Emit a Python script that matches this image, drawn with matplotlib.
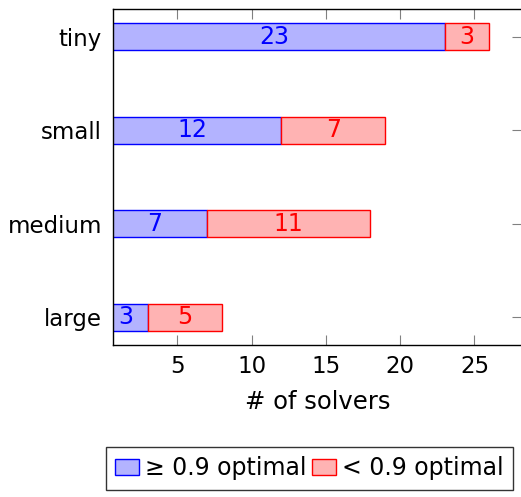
import matplotlib
matplotlib.use("Agg")
import matplotlib.pyplot as plt
from matplotlib.patches import Patch

# Solver counts per instance size
categories = ["large", "medium", "small", "tiny"]
good = [3, 7, 12, 23]    # >= 0.9 optimal
bad = [5, 11, 7, 3]      # < 0.9 optimal
xticks = [5, 10, 15, 20, 25]

BLUE_FILL = "#b3b3ff"
RED_FILL = "#ffb3b3"
BLUE = "#0000ff"
RED = "#ff0000"
FS = 16.5

plt.rcParams["font.family"] = ["DejaVu Sans"]

fig = plt.figure(figsize=(5.21, 4.97), dpi=100)
ax = fig.add_axes([113 / 521, 1 - 345 / 497, (522 - 113) / 521, (345 - 9) / 497])

y = list(range(len(categories)))
h = 0.29
ax.barh(y, good, height=h, color=BLUE_FILL, edgecolor=BLUE, linewidth=1.0, zorder=3)
ax.barh(y, bad, left=good, height=h, color=RED_FILL, edgecolor=RED, linewidth=1.0, zorder=3)

for yi, g, b in zip(y, good, bad):
    ax.text(g / 2, yi, str(g), color=BLUE, ha="center", va="center", fontsize=17, zorder=4)
    ax.text(g + b / 2, yi, str(b), color=RED, ha="center", va="center", fontsize=17, zorder=4)

ax.set_xlim(0.67, 28.2)
ax.set_ylim(-0.294, 3.296)
ax.set_yticks(y)
ax.set_yticklabels(categories, fontsize=FS)
ax.set_xticks(xticks)
ax.set_xticklabels([str(t) for t in xticks], fontsize=FS)

ax.tick_params(axis="both", direction="in", length=7.2, width=0.8, color="#808080",
               top=True, right=True)
ax.tick_params(axis="y", pad=8)
ax.tick_params(axis="x", pad=7)
for s in ax.spines.values():
    s.set_linewidth(1.0)
    s.set_color("black")
    s.set_zorder(5)

ax.set_xlabel("# of solvers", fontsize=17.5, labelpad=9)

handles = [Patch(facecolor=BLUE_FILL, edgecolor=BLUE, linewidth=1.0),
           Patch(facecolor=RED_FILL, edgecolor=RED, linewidth=1.0)]
leg = fig.legend(handles, ["≥ 0.9 optimal", "< 0.9 optimal"], loc="upper left",
                 bbox_to_anchor=(106 / 521, 1 - 447 / 497), ncol=2, fontsize=17,
                 frameon=True, fancybox=False, edgecolor="black",
                 handlelength=1.0, handleheight=0.7, handletextpad=0.25,
                 columnspacing=0.25, borderpad=0.4, borderaxespad=0)
leg.get_frame().set_linewidth(1.0)

fig.savefig("out.png", dpi=100)
